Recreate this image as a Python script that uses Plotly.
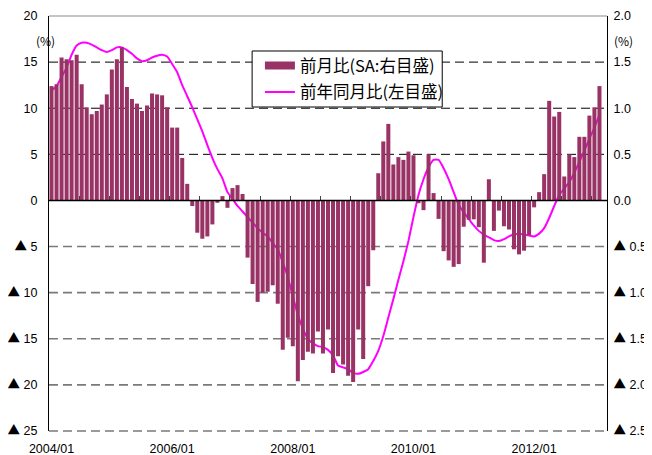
import plotly.graph_objects as go

# ---- data ----
months = [f"{y}/{m:02d}" for y in range(2004, 2014) for m in range(1, 13)][:111]

mom_sa = [  # 前月比 (SA, right axis, %)
    1.24, 1.26, 1.55, 1.53, 1.52, 1.58, 1.26, 1.01, 0.935, 0.97,
    1.04, 1.15, 1.42, 1.53, 1.66, 1.23, 1.10, 1.05, 0.97, 1.03,
    1.16, 1.15, 1.14, 1.01, 0.79, 0.79, 0.46, 0.18, -0.06, -0.35,
    -0.415, -0.39, -0.26, -0.025, 0.047, -0.08, 0.134, 0.166, 0.07, -0.62,
    -0.906, -1.10, -1.00, -0.99, -0.92, -1.12, -1.62, -1.49, -1.58, -1.96,
    -1.73, -1.64, -1.66, -1.42, -1.66, -1.40, -1.87, -1.69, -1.78, -1.90,
    -1.97, -1.40, -1.72, -0.93, -0.54, 0.295, 0.64, 0.83, 0.39, 0.47,
    0.44, 0.53, 0.49, -0.03, -0.105, 0.50, 0.08, -0.20, -0.55, -0.65,
    -0.72, -0.69, -0.285, -0.21, -0.205, -0.29, -0.675, 0.23, -0.33, -0.11,
    -0.28, -0.315, -0.53, -0.585, -0.545, -0.375, -0.075, 0.09, 0.285, 1.08,
    0.91, 0.96, 0.26, 0.50, 0.47, 0.69, 0.69, 0.92, 1.01, 1.24,
    None,
]

yoy = [  # 前年同月比 (left axis, %)
    11.9, 12.4, 13.4, 14.4, 15.8, 16.8, 17.1, 17.1, 16.9, 16.6,
    16.3, 16.1, 16.3, 16.6, 16.6, 16.3, 15.9, 15.4, 15.1, 15.2,
    15.5, 15.7, 15.8, 15.6, 14.8, 13.9, 12.5, 11.3, 10.1, 8.8,
    7.5, 6.0, 4.6, 3.4, 2.4, 0.9, 0.2, -0.6, -1.2, -1.8,
    -2.4, -3.0, -3.5, -3.9, -4.6, -5.3, -6.7, -8.3, -10.4, -12.4,
    -13.9, -15.0, -15.5, -15.8, -15.9, -16.2, -16.8, -17.9, -18.1, -18.3,
    -18.7, -18.8, -18.6, -18.3, -17.4, -16.3, -14.7, -12.7, -10.7, -8.6,
    -6.6, -4.4, -1.8, 0.6, 2.3, 3.6, 4.4, 4.4, 3.5, 2.3,
    0.9, -0.5, -1.3, -2.0, -2.7, -3.3, -3.7, -4.0, -4.3, -4.4,
    -4.2, -3.9, -3.7, -3.6, -3.7, -3.8, -3.9, -3.6, -3.0, -1.9,
    -0.6, 0.6, 1.3, 2.0, 3.0, 4.2, 5.4, 6.7, 7.9, 9.3,
    None,
]

TRI = "<span style='font-family:Noto Sans CJK JP'>▲</span>"
left_ticks = [-25, -20, -15, -10, -5, 0, 5, 10, 15, 20]
left_text = [TRI + " 25", TRI + " 20", TRI + " 15", TRI + " 10", TRI + " 5",
             "0", "5", "10", "15", "20"]
right_ticks = [-2.5, -2.0, -1.5, -1.0, -0.5, 0.0, 0.5, 1.0, 1.5, 2.0]
right_text = [TRI + " 2.5", TRI + " 2.0", TRI + " 1.5", TRI + " 1.0", TRI + " 0.5",
              "0.0", "0.5", "1.0", "1.5", "2.0"]
x_label_months = ["2004/01", "2006/01", "2008/01", "2010/01", "2012/01"]

FONT = "Noto Sans CJK JP"
TICKFONT = "Liberation Sans, Noto Sans CJK JP"
BAR = "#993366"
LINE = "#FF00FF"

fig = go.Figure()
fig.add_trace(go.Bar(
    x=months, y=mom_sa, name="前月比(SA:右目盛)",
    marker=dict(color=BAR, line=dict(width=0)),
    xaxis="x", yaxis="y2", showlegend=False,
))
# legend key for the bars (rectangular swatch as in the original)
fig.add_trace(go.Scatter(
    x=[None], y=[None], name="前月比(SA:右目盛)", mode="lines",
    line=dict(color=BAR, width=8), xaxis="x", yaxis="y2", legendgroup="a",
))
fig.add_trace(go.Scatter(
    x=months, y=yoy, name="前年同月比(左目盛)", mode="lines",
    line=dict(color=LINE, width=2, shape="spline", smoothing=0.5),
    xaxis="x", yaxis="y", legendgroup="b",
))
# empty helper trace so the zero-line tick axis is drawn
fig.add_trace(go.Scatter(
    x=months, y=[None] * len(months), mode="lines", showlegend=False,
    hoverinfo="skip", xaxis="x2", yaxis="y",
))

# gridlines
shapes = []
for v in left_ticks:
    if v == 0:
        continue
    if v == left_ticks[-1]:
        shapes.append(dict(type="line", xref="paper", x0=0, x1=1, yref="paper", y0=1, y1=1,
                           line=dict(color="#8c8c8c", width=1.2), layer="below"))
        continue
    if v > 0:
        line = dict(color="#000000", width=1, dash="9px,5px")
    else:
        line = dict(color="#7a7a7a", width=1.6, dash="9px,5px")
    if v == left_ticks[0]:
        shapes.append(dict(type="line", xref="paper", x0=0, x1=1, yref="paper", y0=0, y1=0,
                           line=line, layer="below"))
    else:
        shapes.append(dict(type="line", xref="paper", x0=0, x1=1, yref="y", y0=v, y1=v,
                           line=line, layer="below"))
# zero line
shapes.append(dict(type="line", xref="paper", x0=0, x1=1, yref="y", y0=0, y1=0,
                   line=dict(color="#000000", width=1.5), layer="above"))
# legend frame (white box, black border)
shapes.append(dict(type="rect", xref="paper", yref="paper", x0=0.364, x1=0.7047,
                   y0=0.7807, y1=0.9157, fillcolor="white",
                   line=dict(color="#000000", width=1), layer="above"))

zero_pos = (0 - left_ticks[0]) / (left_ticks[-1] - left_ticks[0])
nx = len(months)

# page body has an 8px default margin, so the figure is 8px smaller than the window
fig.update_layout(
    width=644, height=447,
    margin=dict(l=41, r=45, t=8, b=24, autoexpand=False),
    paper_bgcolor="white", plot_bgcolor="white",
    font=dict(family=FONT, size=12, color="#000000"),
    bargap=0.2,
    showlegend=True,
    legend=dict(
        x=0.378, y=0.922, xanchor="left", yanchor="top",
        bgcolor="rgba(0,0,0,0)", borderwidth=0,
        font=dict(family=FONT, size=16.5),
        traceorder="grouped", tracegroupgap=2,
        itemwidth=30,
    ),
    xaxis=dict(
        type="category", categoryorder="array", categoryarray=months,
        range=[-0.5, nx - 0.5],
        tickmode="array", tickvals=x_label_months, ticktext=x_label_months,
        ticks="", showline=False, showgrid=False, zeroline=False,
        ticklabelstandoff=8, automargin=False, ticklabeloverflow="allow",
        tickfont=dict(family=TICKFONT, size=12.5),
    ),
    xaxis2=dict(
        type="category", categoryorder="array", categoryarray=months,
        range=[-0.5, nx - 0.5],
        overlaying="x", anchor="free", position=zero_pos,
        showline=False,
        ticks="inside", tickson="boundaries", tickmode="linear", tick0=0, dtick=6, ticklen=4,
        tickcolor="#444444", tickwidth=1,
        showticklabels=False, showgrid=False, zeroline=False, automargin=False,
    ),
    yaxis=dict(
        range=[left_ticks[0], left_ticks[-1]],
        tickmode="array", tickvals=left_ticks, ticktext=left_text,
        showline=True, linecolor="#000000", linewidth=1.2,
        showgrid=False, zeroline=False, ticks="", ticklabelstandoff=8,
        automargin=False, ticklabeloverflow="allow",
        tickfont=dict(family=TICKFONT, size=12.5),
    ),
    yaxis2=dict(
        range=[right_ticks[0], right_ticks[-1]],
        tickmode="array", tickvals=right_ticks, ticktext=right_text,
        overlaying="y", side="right", anchor="x",
        showline=True, linecolor="#000000", linewidth=1.2,
        showgrid=False, zeroline=False, ticks="", ticklabelstandoff=3,
        automargin=False, ticklabeloverflow="allow",
        tickfont=dict(family=TICKFONT, size=12.5),
    ),
    shapes=shapes,
    annotations=[
        dict(text="(%)", xref="paper", yref="paper", x=-0.006, y=0.942,
             xanchor="center", yanchor="middle", showarrow=False,
             font=dict(family=FONT, size=12)),
        dict(text="(%)", xref="paper", yref="paper", x=1.03, y=0.942,
             xanchor="center", yanchor="middle", showarrow=False,
             font=dict(family=FONT, size=12)),
    ],
)

fig.write_html("out.html")
